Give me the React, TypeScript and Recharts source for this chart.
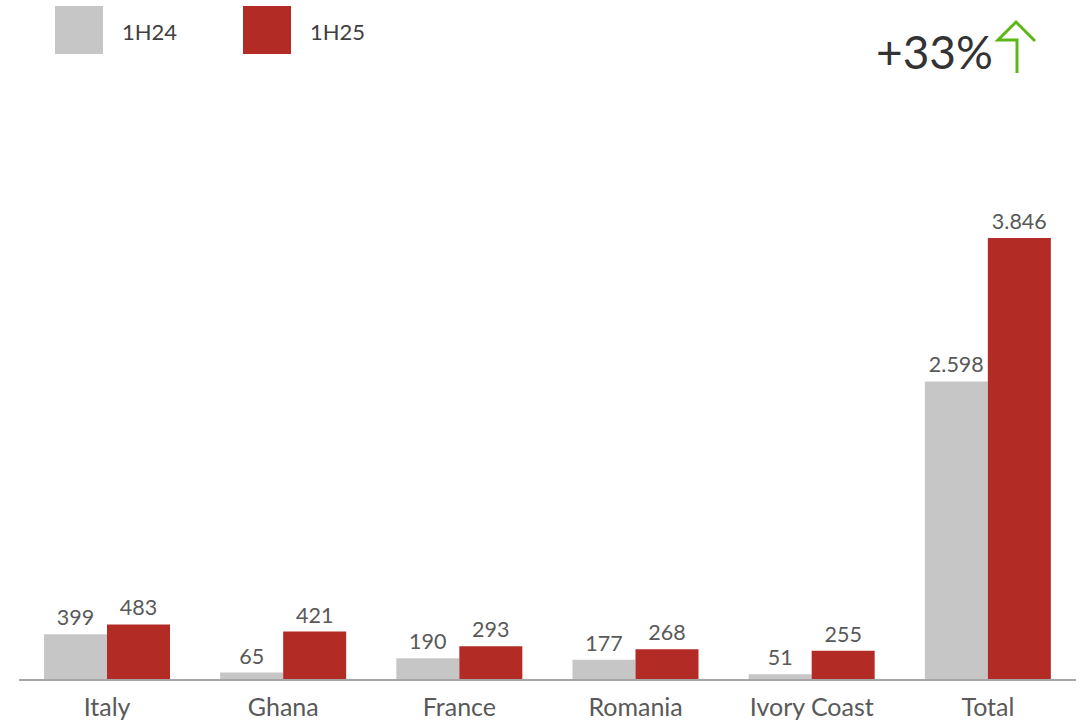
import React from "react";
import { BarChart, Bar, XAxis, YAxis, LabelList, Legend } from "recharts";

const categories = ["Italy", "Ghana", "France", "Romania", "Ivory Coast", "Total"];
const values1H24 = [399, 65, 190, 177, 51, 2598];
const values1H25 = [483, 421, 293, 268, 255, 3846];
const seriesNames = ["1H24", "1H25"];
const growthLabel = "+33%";

const data = categories.map((c, i) => ({
  name: c,
  a: values1H24[i],
  b: values1H25[i],
}));

const GRAY = "#c6c6c6";
const RED = "#b22b25";
const FONT = "Lato, 'Open Sans', sans-serif";

const fmt = (v: any) => {
  const n = Number(v);
  return n >= 1000 ? n.toLocaleString("de-DE") : String(n);
};

const renderLegend = () => (
  <div style={{ position: "relative", width: 400, height: 60, fontFamily: FONT }}>
    {[GRAY, RED].map((col, i) => (
      <div key={i} style={{ position: "absolute", left: 55 + i * 188, top: 6, display: "flex", alignItems: "center" }}>
        <div style={{ width: 48, height: 48, background: col }} />
        <span style={{ marginLeft: 19, fontSize: 22, color: "#404040", position: "relative", top: 1 }}>{seriesNames[i]}</span>
      </div>
    ))}
  </div>
);

export default function App() {
  return (
    <div style={{ position: "absolute", left: 0, top: 0, width: 1084, height: 725, background: "#fff" }}>
      <BarChart
        width={1084}
        height={725}
        data={data}
        margin={{ top: 178, right: 8, bottom: 0, left: 19 }}
        barCategoryGap={25}
        barGap={0}
      >
        <XAxis
          dataKey="name"
          axisLine={{ stroke: "#a6a6a6", strokeWidth: 2 }}
          tickLine={false}
          tickSize={0}
          tickMargin={18}
          height={45}
          interval={0}
          tick={{ fill: "#595959", fontSize: 25, fontFamily: FONT }}
        />
        <YAxis hide domain={[0, "dataMax"]} />
        <Legend
          content={renderLegend}
          verticalAlign="top"
          align="left"
          wrapperStyle={{ position: "absolute", left: 0, top: 0, width: 400, height: 60 }}
        />
        <Bar dataKey="a" name={seriesNames[0]} fill={GRAY} isAnimationActive={false}>
          <LabelList dataKey="a" position="top" offset={9} formatter={fmt} fill="#595959" fontSize={21.5} fontFamily={FONT} />
        </Bar>
        <Bar dataKey="b" name={seriesNames[1]} fill={RED} isAnimationActive={false}>
          <LabelList dataKey="b" position="top" offset={9} formatter={fmt} fill="#595959" fontSize={21.5} fontFamily={FONT} />
        </Bar>
      </BarChart>
      <div
        style={{
          position: "absolute",
          left: 876,
          top: 24,
          fontSize: 46,
          fontFamily: FONT,
          color: "#333333",
          lineHeight: "56px",
        }}
      >
        {growthLabel}
      </div>
      <svg style={{ position: "absolute", left: 0, top: 0 }} width={1084} height={100}>
        <path
          d="M 1017 73 L 1017 40 L 998 40 L 1016 22 L 1035 41"
          fill="none"
          stroke="#5cb615"
          strokeWidth={3}
          strokeLinejoin="miter"
        />
      </svg>
    </div>
  );
}
